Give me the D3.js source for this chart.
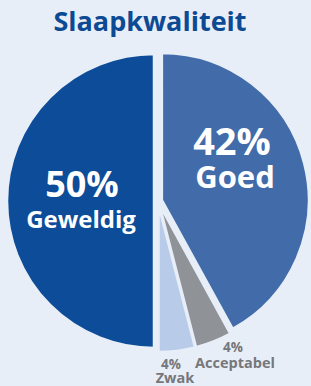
<!DOCTYPE html>
<html>
<head>
<meta charset="utf-8">
<script src="https://cdn.jsdelivr.net/npm/d3@7"></script>
<style>
  body { margin: 0; background: #e8eef8; }
  text { font-family: "Open Sans", sans-serif; font-weight: 700; }
</style>
</head>
<body>
<script>
const width = 311;
const height = 386;

// data
const categories = ["Goed", "Acceptabel", "Zwak", "Geweldig"];
const values = [42, 4, 4, 50];
const colors = ["#426ca9", "#8f9297", "#b8cbe8", "#0c4c98"];

const svg = d3.select("body").append("svg")
    .attr("width", width)
    .attr("height", height);

svg.append("rect")
    .attr("width", width)
    .attr("height", height)
    .attr("fill", "#e8eef8");

svg.append("text")
    .attr("x", 150)
    .attr("y", 31)
    .attr("text-anchor", "middle")
    .attr("font-size", 27)
    .attr("fill", "#0d4a94")
    .text("Slaapkwaliteit");

const cx = 158, cy = 201, r = 147;
const explode = 4;

const pie = d3.pie().sort(null).value(d => d.value);
const arc = d3.arc().innerRadius(0).outerRadius(r);

const data = categories.map((c, i) => ({ name: c, value: values[i], color: colors[i] }));
const arcs = pie(data);

const g = svg.append("g").attr("transform", `translate(${cx},${cy})`);

g.selectAll("path")
    .data(arcs)
    .enter()
    .append("path")
    .attr("d", arc)
    .attr("fill", d => d.data.color)
    .attr("stroke", "#e8eef8")
    .attr("stroke-width", 2.5)
    .attr("transform", d => {
        const mid = (d.startAngle + d.endAngle) / 2;
        return `translate(${explode * Math.sin(mid)},${-explode * Math.cos(mid)})`;
    });

// big labels inside the slices
const big = [
    { i: 0, x: 232, y: 155, size: 38, lx: 235, ly: 188, lsize: 31 },
    { i: 3, x: 82, y: 197, size: 36, lx: 81, ly: 228, lsize: 24 }
];
big.forEach(b => {
    svg.append("text")
        .attr("x", b.x).attr("y", b.y)
        .attr("text-anchor", "middle")
        .attr("font-size", b.size)
        .attr("fill", "#fff")
        .text(values[b.i] + "%");
    svg.append("text")
        .attr("x", b.lx).attr("y", b.ly)
        .attr("text-anchor", "middle")
        .attr("font-size", b.lsize)
        .attr("fill", "#fff")
        .text(categories[b.i]);
});

// small labels below the pie
const small = [
    { i: 1, x: 233, y: 352, lx: 235, ly: 368 },
    { i: 2, x: 171, y: 369, lx: 175, ly: 383 }
];
small.forEach(s => {
    svg.append("text")
        .attr("x", s.x).attr("y", s.y)
        .attr("text-anchor", "middle")
        .attr("font-size", 13.5)
        .attr("fill", "#75777b")
        .text(values[s.i] + "%");
    svg.append("text")
        .attr("x", s.lx).attr("y", s.ly)
        .attr("text-anchor", "middle")
        .attr("font-size", 14.5)
        .attr("fill", "#75777b")
        .text(categories[s.i]);
});
</script>
</body>
</html>
